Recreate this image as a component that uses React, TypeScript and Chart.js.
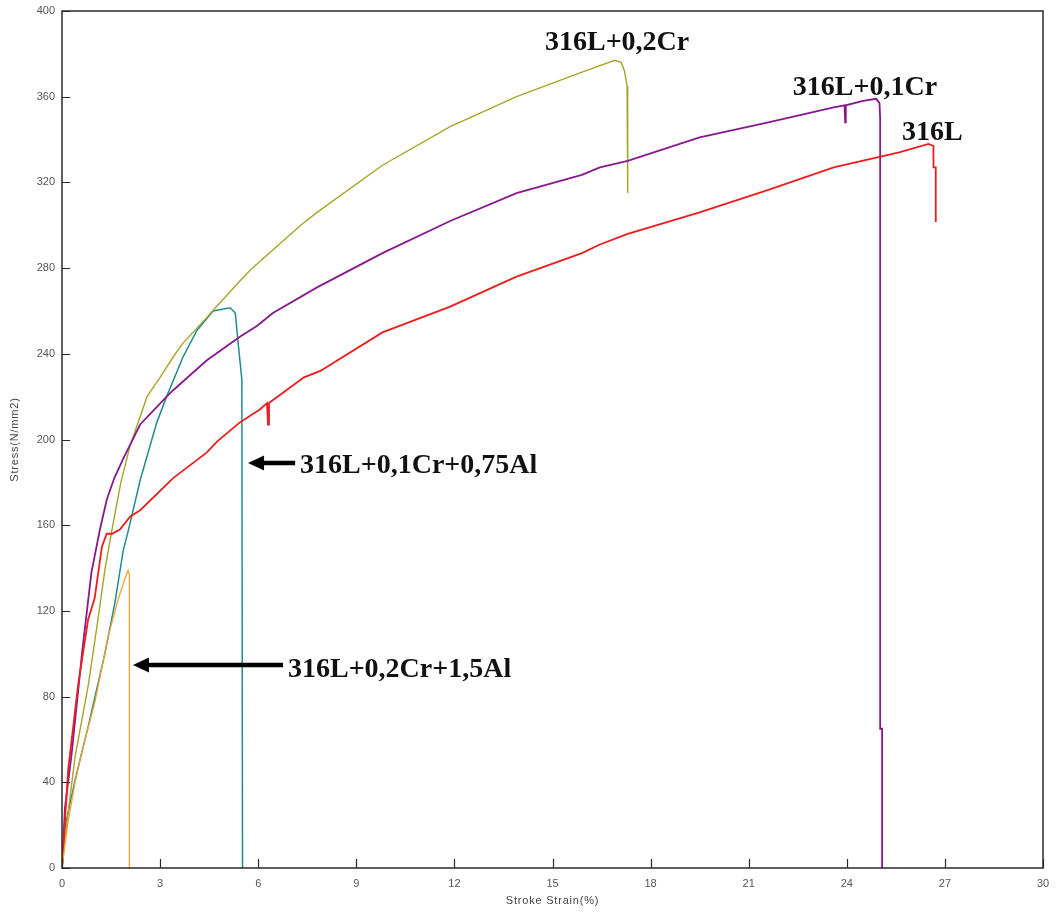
import React, { useEffect, useRef } from "react";
import { Chart, registerables } from "chart.js";

Chart.register(...registerables);

// ---------- data (strain %, stress N/mm2) ----------
const strain316L = [0, 0.19, 0.49, 0.8, 1.0, 1.22, 1.37, 1.53, 1.77, 2.08, 2.39, 3.4, 4.43, 4.74, 5.44, 6.05, 6.27, 6.3, 6.33, 7.4, 7.9, 9.8, 11.87, 13.9, 15.9, 16.45, 17.3, 19.5, 21.6, 23.6, 25.6, 26.5, 26.65, 26.65, 26.72, 26.72];
const stress316L = [0, 46, 85, 116, 126, 150, 156, 156, 158, 164, 167, 182, 194, 199, 208, 214, 217, 207, 217, 229, 232, 250, 262, 276, 287, 291, 296, 306, 316.5, 327, 334, 338, 337, 327, 327, 301.5];

const strain01Cr = [0, 0.09, 0.3, 0.61, 0.9, 1.16, 1.37, 1.6, 1.87, 2.39, 3.2, 3.4, 4.43, 5.44, 5.96, 6.45, 7.8, 9.8, 11.87, 13.9, 15.9, 16.45, 17.3, 19.5, 21.6, 23.6, 23.93, 23.95, 23.97, 24.5, 24.9, 25.0, 25.02, 25.02, 25.08, 25.08];
const stress01Cr = [0, 28, 54, 100, 138, 158, 172, 182, 191, 207, 220, 223, 237, 248, 253, 259, 271, 287, 302, 315, 323.5, 327, 330, 341, 348, 355, 356, 348, 356, 358, 359, 357, 350, 65, 65, 0];

const strain02Cr = [0, 0.1, 0.4, 0.8, 1.1, 1.31, 1.53, 1.8, 2.08, 2.6, 3.0, 3.4, 3.7, 4.43, 4.6, 5.44, 5.75, 7.3, 7.8, 9.8, 11.87, 13.9, 15.9, 16.9, 17.1, 17.2, 17.28, 17.3];
const stress02Cr = [0, 15, 52, 85, 116, 139, 158, 180, 197, 220, 229, 238.5, 245, 257, 260, 274, 279, 300, 306, 328, 346, 360, 371.5, 377, 376, 372, 365, 315];

const strain01Cr075Al = [0, 0.09, 0.4, 0.8, 1.31, 1.62, 1.87, 2.02, 2.39, 2.9, 3.2, 3.7, 4.13, 4.62, 5.14, 5.3, 5.38, 5.5, 5.52];
const stress01Cr075Al = [0, 19, 41, 66, 100, 124, 148, 157, 181, 208, 220, 238.5, 251, 260, 261.5, 259, 246, 228, 0];

const strain02Cr15Al = [0, 0.1, 0.19, 0.4, 0.6, 1.0, 1.2, 1.41, 1.71, 1.9, 2.02, 2.06, 2.06];
const stress02Cr15Al = [0, 12, 22, 40, 54, 77, 92, 108, 125, 134, 139, 137, 0];

const xTickValues = [0, 3, 6, 9, 12, 15, 18, 21, 24, 27, 30];
const yTickValues = [0, 40, 80, 120, 160, 200, 240, 280, 320, 360, 400];

// annotation labels (text, left x in strain, baseline in stress)
const labelTexts = ["316L+0,2Cr", "316L+0,1Cr", "316L", "316L+0,1Cr+0,75Al", "316L+0,2Cr+1,5Al"];
const labelStrain = [14.77, 22.35, 25.69, 7.28, 6.91];
const labelStress = [381.8, 360.8, 339.8, 184.4, 89.1];

// arrows: tail strain, tip strain, stress
const arrowTail = [7.13, 6.76];
const arrowTip = [5.69, 2.17];
const arrowStress = [189, 94.7];

const toPoints = (xs: number[], ys: number[]) => xs.map((x, i) => ({ x, y: ys[i] }));

const decorPlugin = {
  id: "decor",
  afterDraw(chart: any) {
    const { ctx, chartArea: a } = chart;
    const xs = chart.scales.x;
    const ys = chart.scales.y;
    ctx.save();
    // frame
    ctx.strokeStyle = "#2a2a2a";
    ctx.lineWidth = 1.5;
    ctx.strokeRect(a.left, a.top, a.right - a.left, a.bottom - a.top);
    // inward ticks
    ctx.lineWidth = 1.2;
    ctx.beginPath();
    xTickValues.forEach((v) => {
      const px = Math.round(xs.getPixelForValue(v)) + 0.5;
      ctx.moveTo(px, a.bottom);
      ctx.lineTo(px, a.bottom - 9);
    });
    yTickValues.forEach((v) => {
      const py = Math.round(ys.getPixelForValue(v)) + 0.5;
      ctx.moveTo(a.left, py);
      ctx.lineTo(a.left + 8, py);
    });
    ctx.stroke();

    // axis titles
    ctx.fillStyle = "#444";
    ctx.font = '11px "Liberation Sans", Arial, sans-serif';
    try { (ctx as any).letterSpacing = "0.8px"; } catch (e) {}
    ctx.textAlign = "center";
    ctx.textBaseline = "middle";
    ctx.fillText("Stroke Strain(%)", (a.left + a.right) / 2, a.bottom + 33);
    ctx.save();
    ctx.translate(15, (a.top + a.bottom) / 2);
    ctx.rotate(-Math.PI / 2);
    ctx.fillText("Stress(N/mm2)", 0, 0);
    ctx.restore();
    try { (ctx as any).letterSpacing = "0px"; } catch (e) {}

    // labels
    ctx.fillStyle = "#111";
    ctx.font = 'bold 28px "Liberation Serif", "Times New Roman", serif';
    ctx.textAlign = "left";
    ctx.textBaseline = "alphabetic";
    labelTexts.forEach((t, i) => {
      ctx.fillText(t, xs.getPixelForValue(labelStrain[i]), ys.getPixelForValue(labelStress[i]));
    });

    // arrows
    ctx.strokeStyle = "#000";
    ctx.fillStyle = "#000";
    arrowTail.forEach((tail, i) => {
      const x1 = xs.getPixelForValue(tail);
      const x2 = xs.getPixelForValue(arrowTip[i]);
      const y = ys.getPixelForValue(arrowStress[i]);
      const headLen = 16;
      ctx.lineWidth = 4.5;
      ctx.beginPath();
      ctx.moveTo(x1, y);
      ctx.lineTo(x2 + headLen - 2, y);
      ctx.stroke();
      ctx.beginPath();
      ctx.moveTo(x2, y);
      ctx.lineTo(x2 + headLen, y - 7.5);
      ctx.lineTo(x2 + headLen, y + 7.5);
      ctx.closePath();
      ctx.fill();
    });
    ctx.restore();
  },
};

export default function App() {
  const canvasRef = useRef<HTMLCanvasElement | null>(null);

  useEffect(() => {
    if (!canvasRef.current) return;
    const tickFont = { family: '"Liberation Sans", Arial, sans-serif', size: 11 };
    const chart = new Chart(canvasRef.current, {
      type: "scatter",
      data: {
        datasets: [
          { label: "316L+0,2Cr+1,5Al", data: toPoints(strain02Cr15Al, stress02Cr15Al), borderColor: "#f2a22e", borderWidth: 1.3 },
          { label: "316L", data: toPoints(strain316L, stress316L), borderColor: "#ee1c1c", borderWidth: 1.8 },
          { label: "316L+0,1Cr", data: toPoints(strain01Cr, stress01Cr), borderColor: "#861a8c", borderWidth: 1.8 },
          { label: "316L+0,2Cr", data: toPoints(strain02Cr, stress02Cr), borderColor: "#a5a52a", borderWidth: 1.4 },
          { label: "316L+0,1Cr+0,75Al", data: toPoints(strain01Cr075Al, stress01Cr075Al), borderColor: "#1f8d8d", borderWidth: 1.5 },
        ].map((d) => ({ ...d, showLine: true, pointRadius: 0, pointHoverRadius: 0, tension: 0, fill: false })),
      },
      options: {
        animation: false,
        responsive: true,
        maintainAspectRatio: false,
        layout: { padding: { top: 11, right: 13, left: 0, bottom: 0 } },
        plugins: { legend: { display: false }, tooltip: { enabled: false } },
        scales: {
          x: {
            type: "linear",
            min: 0,
            max: 30,
            grid: { display: true, drawOnChartArea: false, drawTicks: true, tickLength: 9, tickColor: "rgba(0,0,0,0)" },
            border: { display: false },
            ticks: { stepSize: 3, padding: 0, color: "#555", font: tickFont, maxRotation: 0 },
            afterFit: (s: any) => { s.height = 44; },
          },
          y: {
            type: "linear",
            min: 0,
            max: 400,
            grid: { display: true, drawOnChartArea: false, drawTicks: true, tickLength: 7, tickColor: "rgba(0,0,0,0)" },
            border: { display: false },
            ticks: { stepSize: 40, padding: 0, color: "#555", font: tickFont },
            afterFit: (s: any) => { s.width = 62; },
          },
        },
      },
      plugins: [decorPlugin],
    });
    return () => chart.destroy();
  }, []);

  return (
    <div style={{ position: "absolute", left: 0, top: 0, width: 1056, height: 912, background: "#fff" }}>
      <canvas ref={canvasRef} />
    </div>
  );
}
